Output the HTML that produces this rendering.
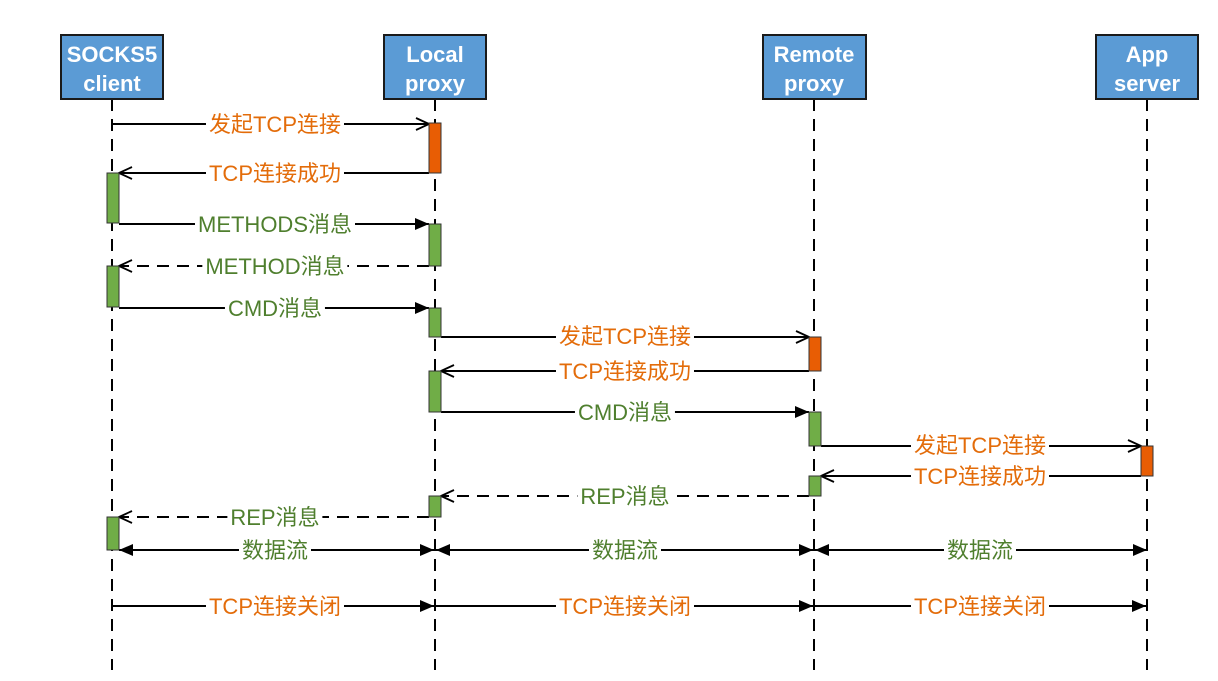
<!DOCTYPE html>
<html><head><meta charset="utf-8"><style>
html,body{margin:0;padding:0;background:#fff;}
#w{position:relative;width:1218px;height:681px;overflow:hidden}
svg{display:block;position:absolute;left:0;top:0}
.l{position:absolute;font-family:"Liberation Sans","Noto Sans CJK SC",sans-serif;font-size:22px;line-height:24px;background:#fff;padding:0 3px;transform:translate(-50%,-50%);white-space:nowrap}
.o{color:#E36C0A}.g{color:#4F7F2E}
.hd{font-family:"Liberation Sans","Noto Sans CJK SC",sans-serif;font-size:22px;font-weight:bold;fill:#fff;text-anchor:middle}
</style></head><body><div id="w">
<svg width="1218" height="681" viewBox="0 0 1218 681" xmlns="http://www.w3.org/2000/svg">
<defs>
<marker id="op" markerWidth="16" markerHeight="14" refX="14" refY="7" orient="auto" markerUnits="userSpaceOnUse"><path d="M1,1 L14,7 L1,13" fill="none" stroke="#000" stroke-width="1.8"/></marker>
<marker id="fl" markerWidth="16" markerHeight="14" refX="14" refY="7" orient="auto-start-reverse" markerUnits="userSpaceOnUse"><path d="M0,1 L14,7 L0,13 Z" fill="#000"/></marker>
</defs>
<g stroke="#000" stroke-width="2" stroke-dasharray="12,8">
<line x1="112" y1="99" x2="112" y2="670"/>
<line x1="435" y1="99" x2="435" y2="670"/>
<line x1="814" y1="99" x2="814" y2="670"/>
<line x1="1147" y1="99" x2="1147" y2="670"/>
</g>
<g fill="#5B9BD5" stroke="#1a1a1a" stroke-width="2">
<rect x="61" y="35" width="102" height="64"/>
<rect x="384" y="35" width="102" height="64"/>
<rect x="763" y="35" width="103" height="64"/>
<rect x="1096" y="35" width="102" height="64"/>
</g>
<text class="hd" x="112" y="62">SOCKS5</text><text class="hd" x="112" y="91">client</text>
<text class="hd" x="435" y="62">Local</text><text class="hd" x="435" y="91">proxy</text>
<text class="hd" x="814" y="62">Remote</text><text class="hd" x="814" y="91">proxy</text>
<text class="hd" x="1147" y="62">App</text><text class="hd" x="1147" y="91">server</text>

<g stroke="#000" stroke-width="2" fill="none">
<line x1="112" y1="124" x2="429" y2="124" marker-end="url(#op)"/>
<line x1="429" y1="173" x2="119" y2="173" marker-end="url(#op)"/>
<line x1="119" y1="224" x2="429" y2="224" marker-end="url(#fl)"/>
<line x1="429" y1="266" x2="119" y2="266" stroke-dasharray="12,8" marker-end="url(#op)"/>
<line x1="119" y1="308" x2="429" y2="308" marker-end="url(#fl)"/>
<line x1="441" y1="337" x2="809" y2="337" marker-end="url(#op)"/>
<line x1="809" y1="371" x2="441" y2="371" marker-end="url(#op)"/>
<line x1="441" y1="412" x2="809" y2="412" marker-end="url(#fl)"/>
<line x1="821" y1="446" x2="1141" y2="446" marker-end="url(#op)"/>
<line x1="1141" y1="476" x2="821" y2="476" marker-end="url(#op)"/>
<line x1="809" y1="496" x2="441" y2="496" stroke-dasharray="12,8" marker-end="url(#op)"/>
<line x1="429" y1="517" x2="119" y2="517" stroke-dasharray="12,8" marker-end="url(#op)"/>
<line x1="119" y1="550" x2="434" y2="550" marker-start="url(#fl)" marker-end="url(#fl)"/>
<line x1="436" y1="550" x2="813" y2="550" marker-start="url(#fl)" marker-end="url(#fl)"/>
<line x1="815" y1="550" x2="1147" y2="550" marker-start="url(#fl)" marker-end="url(#fl)"/>
<line x1="112" y1="606" x2="434" y2="606" marker-end="url(#fl)"/>
<line x1="436" y1="606" x2="813" y2="606" marker-end="url(#fl)"/>
<line x1="815" y1="606" x2="1146" y2="606" marker-end="url(#fl)"/>
</g>

<g stroke="#333" stroke-width="1">
<rect x="429" y="123" width="12" height="50" fill="#E85D04"/>
<rect x="107" y="173" width="12" height="50" fill="#70AD47"/>
<rect x="429" y="224" width="12" height="42" fill="#70AD47"/>
<rect x="107" y="266" width="12" height="41" fill="#70AD47"/>
<rect x="429" y="308" width="12" height="29" fill="#70AD47"/>
<rect x="809" y="337" width="12" height="34" fill="#E85D04"/>
<rect x="429" y="371" width="12" height="41" fill="#70AD47"/>
<rect x="809" y="412" width="12" height="34" fill="#70AD47"/>
<rect x="1141" y="446" width="12" height="30" fill="#E85D04"/>
<rect x="809" y="476" width="12" height="20" fill="#70AD47"/>
<rect x="429" y="496" width="12" height="21" fill="#70AD47"/>
<rect x="107" y="517" width="12" height="33" fill="#70AD47"/>
</g>
</svg>
<div class="l o" style="left:275px;top:125px">发起TCP连接</div>
<div class="l o" style="left:275px;top:174px">TCP连接成功</div>
<div class="l g" style="left:275px;top:225px">METHODS消息</div>
<div class="l g" style="left:275px;top:267px">METHOD消息</div>
<div class="l g" style="left:275px;top:309px">CMD消息</div>
<div class="l o" style="left:625px;top:337px">发起TCP连接</div>
<div class="l o" style="left:625px;top:372px">TCP连接成功</div>
<div class="l g" style="left:625px;top:413px">CMD消息</div>
<div class="l o" style="left:980px;top:446px">发起TCP连接</div>
<div class="l o" style="left:980px;top:477px">TCP连接成功</div>
<div class="l g" style="left:625px;top:497px">REP消息</div>
<div class="l g" style="left:275px;top:518px">REP消息</div>
<div class="l g" style="left:275px;top:551px">数据流</div>
<div class="l g" style="left:625px;top:551px">数据流</div>
<div class="l g" style="left:980px;top:551px">数据流</div>
<div class="l o" style="left:275px;top:607px">TCP连接关闭</div>
<div class="l o" style="left:625px;top:607px">TCP连接关闭</div>
<div class="l o" style="left:980px;top:607px">TCP连接关闭</div>
</div></body></html>
